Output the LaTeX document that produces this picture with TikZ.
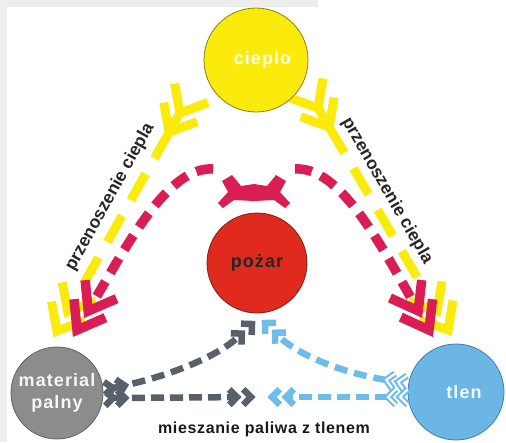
\documentclass[tikz,border=0pt]{standalone}
\usepackage{fontspec}
\setmainfont{Liberation Sans}
\newfontfamily\labfont[LetterSpace=6]{Liberation Sans}
\newfontfamily\rotfont{Liberation Sans}
\newfontfamily\botfont[LetterSpace=4]{Liberation Sans}
\usetikzlibrary{calc}
\definecolor{cyel}{HTML}{FBEB0C}
\definecolor{cyelD}{HTML}{8C7E12}
\definecolor{ccrim}{HTML}{DA1E53}
\definecolor{cred}{HTML}{DF2A1D}
\definecolor{credD}{HTML}{7A2418}
\definecolor{cgc}{HTML}{8C8C8C}
\definecolor{cgcD}{HTML}{626262}
\definecolor{cbc}{HTML}{6BB6E4}
\definecolor{cbcD}{HTML}{3F80B2}
\definecolor{cgar}{HTML}{58616A}
\definecolor{cbar}{HTML}{6FBBEA}
\definecolor{ctxt}{HTML}{262626}
\definecolor{cband}{HTML}{EDEDED}
\newcommand\mychev[5]{\draw[#1] ($(#2)!#4!#5:(#3)$) -- (#2) -- ($(#2)!#4!-#5:(#3)$);}
\begin{document}
\begin{tikzpicture}[x=1pt,y=-1pt,line cap=butt,line join=miter,
  ylw/.style={draw=cyel,line width=9pt},
  crim/.style={draw=ccrim,line width=9.5pt},
  garr/.style={draw=cgar,line width=6.5pt},
  barr/.style={draw=cbar,line width=6.5pt},
  bhol/.style={draw=white,line width=2.2pt},
  circ/.style={circle,inner sep=0pt,line width=0.8pt,align=center,
    font=\labfont\bfseries\fontsize{18}{22}\selectfont},
  lbl/.style={inner sep=0pt,text=ctxt,font=\rotfont\bfseries\fontsize{17.5}{19}\selectfont}]
\useasboundingbox (0,0) rectangle (506,442);
\fill[white] (0,0) rectangle (506,442);
\fill[cband] (0,0) rectangle (318,7);
\fill[cband] (0,0) rectangle (7,442);

% ---------- yellow: heat transfer, left ----------
\coordinate (ylA) at (180,113);
\coordinate (ylB) at (57,331);
\coordinate (ylA2) at ($(ylA)!22pt!(ylB)$);
\coordinate (ylB2) at ($(ylB)!22pt!(ylA)$);
\draw[ylw] (ylA) -- (ylA2);
\draw[ylw,dash pattern=on 30pt off 18pt,shorten >=22pt] (ylA2) -- (ylB2);
\mychev{ylw}{ylA}{ylB}{30pt}{140}
\mychev{ylw}{ylA2}{ylB}{30pt}{140}
\mychev{ylw}{ylB}{ylA}{30pt}{40}
\mychev{ylw}{ylB2}{ylA}{30pt}{40}

% ---------- yellow: heat transfer, right ----------
\coordinate (yrA) at (318,108);
\coordinate (yrB) at (448,330);
\coordinate (yrA2) at ($(yrA)!22pt!(yrB)$);
\coordinate (yrB2) at ($(yrB)!22pt!(yrA)$);
\draw[ylw] (yrA) -- (yrA2);
\draw[ylw,dash pattern=on 30pt off 18pt,shorten >=22pt] (yrA2) -- (yrB2);
\mychev{ylw}{yrA}{yrB}{30pt}{140}
\mychev{ylw}{yrA2}{yrB}{30pt}{140}
\mychev{ylw}{yrB}{yrA}{30pt}{40}
\mychev{ylw}{yrB2}{yrA}{30pt}{40}

% ---------- red arch ----------
\fill[ccrim] (222,181) -- (232,175) -- (241,186) -- (254,184) -- (267,186) -- (276,175)
  -- (286,181) -- (280,192) -- (290,203) -- (285,208) -- (274,200) -- (254,201)
  -- (234,200) -- (223,208) -- (218,203) -- (228,192) -- cycle;

\coordinate (rlS) at (213,169);
\coordinate (rlC1) at (168,166);
\coordinate (rlC2) at (127,245);
\coordinate (rlE) at (77,330);
\coordinate (rlE2) at ($(rlE)!22pt!(rlC2)$);
\draw[crim,dash pattern=on 17pt off 10pt,shorten >=26pt] (rlS) .. controls (rlC1) and (rlC2) .. (rlE);
\mychev{crim}{rlE}{rlC2}{31pt}{36}
\mychev{crim}{rlE2}{rlC2}{31pt}{36}

\coordinate (rrS) at (295,169);
\coordinate (rrC1) at (340,166);
\coordinate (rrC2) at (381,245);
\coordinate (rrE) at (429,330);
\coordinate (rrE2) at ($(rrE)!22pt!(rrC2)$);
\draw[crim,dash pattern=on 17pt off 10pt,shorten >=26pt] (rrS) .. controls (rrC1) and (rrC2) .. (rrE);
\mychev{crim}{rrE}{rrC2}{31pt}{36}
\mychev{crim}{rrE2}{rrC2}{31pt}{36}

% ---------- circles ----------
\node[circ,fill=cyel,draw=cyelD,minimum size=104pt,text=white!92!yellow] (cieplo) at (256,60) {\hspace*{13pt}cieplo};
\node[circ,fill=cred,draw=credD,minimum size=100pt,text=ctxt] (pozar) at (257,263) {pożar};
\node[circ,fill=cgc,draw=cgcD,minimum size=92pt,text=white!94!gray] (paliwo) at (57,393) {material\\palny};
\node[circ,fill=cbc,draw=cbcD,minimum size=96pt,text=white!94!cyan] (tlen) at (456,392) {\hspace*{16pt}tlen};

% ---------- gray arrows ----------
\coordinate (g1S) at (113,388);
\coordinate (g1C1) at (172,376);
\coordinate (g1C2) at (218,356);
\coordinate (g1E) at (252,324);
\coordinate (g1S2) at ($(g1S)!12pt!(g1C1)$);
\coordinate (g1E2) at ($(g1E)!14pt!(g1C2)$);
\draw[garr,dash pattern=on 13pt off 7pt,shorten >=18pt] (g1S) .. controls (g1C1) and (g1C2) .. (g1E);
\mychev{garr}{g1S}{g1C1}{11pt}{135}
\mychev{garr}{g1S2}{g1C1}{11pt}{135}
\mychev{garr}{g1E}{g1C2}{11pt}{45}
\mychev{garr}{g1E2}{g1C2}{11pt}{45}

\coordinate (g2S) at (113,398);
\coordinate (g2E) at (251,397);
\coordinate (g2S2) at ($(g2S)!12pt!(g2E)$);
\coordinate (g2E2) at ($(g2E)!14pt!(g2S)$);
\draw[garr,dash pattern=on 13pt off 6pt,shorten >=18pt] (g2S) -- (g2E);
\mychev{garr}{g2S}{g2E}{11pt}{135}
\mychev{garr}{g2S2}{g2E}{11pt}{135}
\mychev{garr}{g2E}{g2S}{11pt}{45}
\mychev{garr}{g2E2}{g2S}{11pt}{45}

% ---------- blue arrows ----------
\coordinate (b1S) at (398,382);
\coordinate (b1C1) at (345,373);
\coordinate (b1C2) at (300,357);
\coordinate (b1E) at (265,323);
\coordinate (b1S2) at ($(b1S)!12pt!(b1C1)$);
\coordinate (b1E2) at ($(b1E)!14pt!(b1C2)$);
\draw[barr,dash pattern=on 13pt off 7pt,shorten >=18pt] (b1S2) .. controls (b1C1) and (b1C2) .. (b1E);
\mychev{barr}{b1S}{b1C1}{11pt}{135}
\mychev{barr}{b1S2}{b1C1}{11pt}{135}
\mychev{bhol}{b1S}{b1C1}{11pt}{135}
\mychev{bhol}{b1S2}{b1C1}{11pt}{135}
\mychev{barr}{b1E}{b1C2}{11pt}{45}
\mychev{barr}{b1E2}{b1C2}{11pt}{45}

\coordinate (b2S) at (400,397);
\coordinate (b2E) at (272,397);
\coordinate (b2S2) at ($(b2S)!12pt!(b2E)$);
\coordinate (b2E2) at ($(b2E)!14pt!(b2S)$);
\draw[barr,dash pattern=on 13pt off 6pt,shorten >=18pt] (b2S2) -- (b2E);
\mychev{barr}{b2S}{b2E}{11pt}{135}
\mychev{barr}{b2S2}{b2E}{11pt}{135}
\mychev{bhol}{b2S}{b2E}{11pt}{135}
\mychev{bhol}{b2S2}{b2E}{11pt}{135}
\mychev{barr}{b2E}{b2S}{11pt}{45}
\mychev{barr}{b2E2}{b2S}{11pt}{45}

% ---------- labels ----------
\node[lbl,rotate=61] (lblL) at (110,197) {przenoszenie ciepla};
\node[lbl,rotate=-60] (lblR) at (387,191) {przenoszenie ciepla};
\node[inner sep=0pt,anchor=base,text=black!90,font=\botfont\bfseries\fontsize{16}{18}\selectfont] (mix) at (264,433) {mieszanie paliwa z tlenem};
\end{tikzpicture}
\end{document}
